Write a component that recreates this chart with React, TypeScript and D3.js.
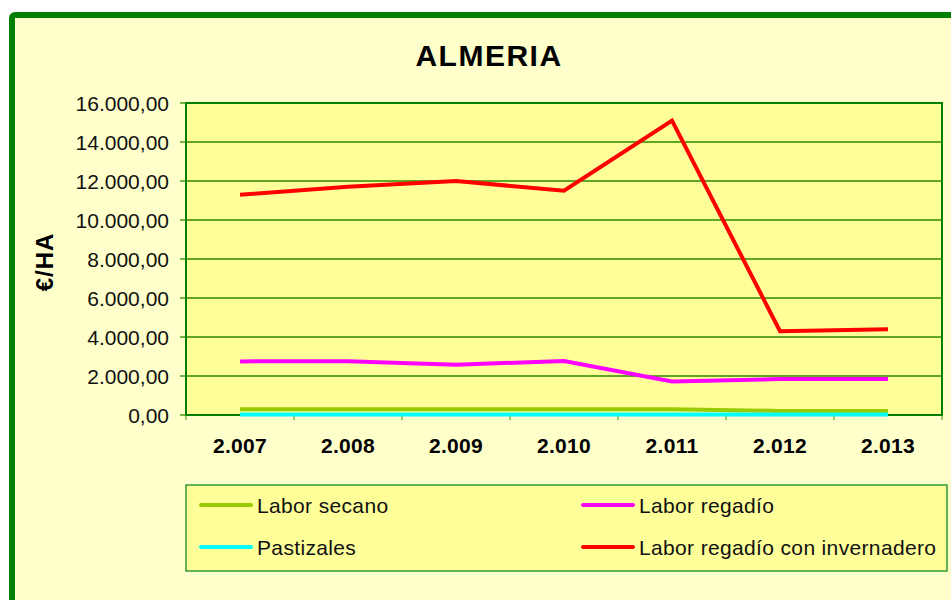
import React from "react";
import * as d3 from "d3";

// años (eje X) y valores €/HA de cada serie
const years = ["2.007", "2.008", "2.009", "2.010", "2.011", "2.012", "2.013"];
const laborSecano = [300, 300, 300, 300, 300, 210, 200];
const pastizales = [20, 20, 20, 20, 20, 20, 20];
const laborRegadio = [2750, 2760, 2580, 2770, 1720, 1840, 1840];
const laborInvernadero = [11300, 11700, 12000, 11500, 15100, 4300, 4400];
const yTicks = [0, 2000, 4000, 6000, 8000, 10000, 12000, 14000, 16000];

const series = [
  { name: "Labor secano", values: laborSecano, color: "#99CC00" },
  { name: "Pastizales", values: pastizales, color: "#00FFFF" },
  { name: "Labor regadío", values: laborRegadio, color: "#FF00FF" },
  { name: "Labor regadío con invernadero", values: laborInvernadero, color: "#FF0000" },
];

const W = 951, H = 600;
const plot = { left: 186, top: 103, right: 942, bottom: 415 };
const font = "'Liberation Sans', Arial, sans-serif";

// 16.000,00 style
const fmt = (v: number) => {
  const s = d3.format(",.2f")(v);
  return s.replace(/,/g, "#").replace(".", ",").replace(/#/g, ".");
};

export default function App() {
  const x = d3.scaleBand().domain(years).range([plot.left, plot.right]);
  const y = d3.scaleLinear().domain([0, 16000]).range([plot.bottom, plot.top]);
  const line = d3.line<number>()
    .x((d, i) => (x(years[i]) as number) + x.bandwidth() / 2)
    .y(d => y(d));

  const legendRows = [
    [series[0], series[2]],
    [series[1], series[3]],
  ];

  return (
    <svg width={W} height={H} style={{ position: "absolute", left: 0, top: 0 }} fontFamily={font}>
      <rect x={0} y={0} width={W} height={H} fill="#fff" />
      <rect x={12} y={15} width={W + 20} height={H + 20} rx={3} fill="#FFFFCC" stroke="#008000" strokeWidth={6} />

      <text x={489} y={66} textAnchor="middle" fontSize={30} fontWeight="bold" letterSpacing={1.5}>ALMERIA</text>

      <rect x={plot.left} y={plot.top} width={plot.right - plot.left} height={plot.bottom - plot.top}
        fill="#FFFF99" stroke="#008000" strokeWidth={2} />

      {yTicks.map(t => (
        <g key={t}>
          {t > 0 && t < 16000 && (
            <line x1={plot.left} x2={plot.right} y1={y(t)} y2={y(t)} stroke="#2D8A00" strokeWidth={1.3} />
          )}
          <line x1={plot.left - 6} x2={plot.left} y1={y(t)} y2={y(t)} stroke="#2D8A00" strokeWidth={1.3} />
          <text x={169} y={y(t)} dy="0.36em" textAnchor="end" fontSize={21} fill="#111">{fmt(t)}</text>
        </g>
      ))}

      {years.map(yr => (
        <g key={yr}>
          <line x1={x(yr) as number} x2={x(yr) as number} y1={plot.bottom} y2={plot.bottom + 5}
            stroke="#339900" strokeWidth={1} />
          <text x={(x(yr) as number) + x.bandwidth() / 2} y={453} textAnchor="middle" fontSize={21} fontWeight="bold" letterSpacing={0.3}>{yr}</text>
        </g>
      ))}
      <line x1={plot.right} x2={plot.right} y1={plot.bottom} y2={plot.bottom + 5} stroke="#339900" strokeWidth={1} />
      <line x1={plot.left} x2={plot.right} y1={plot.bottom} y2={plot.bottom} stroke="#008000" strokeWidth={2} />
      <line x1={plot.left} x2={plot.left} y1={plot.top} y2={plot.bottom} stroke="#008000" strokeWidth={2} />

      <text transform="translate(53,262) rotate(-90)" textAnchor="middle" fontSize={24} fontWeight="bold" letterSpacing={1}>€/HA</text>

      {series.map(s => (
        <path key={s.name} d={line(s.values) as string} fill="none" stroke={s.color} strokeWidth={4} strokeLinejoin="miter" />
      ))}

      <rect x={186} y={485} width={761} height={86} fill="#FFFF99" stroke="#339933" strokeWidth={1.5} />
      {legendRows.map((row, r) =>
        row.map((s, c) => {
          const lx = c === 0 ? 201 : 583;
          const ly = r === 0 ? 505 : 547;
          return (
            <g key={s.name}>
              <line x1={lx} x2={lx + 50} y1={ly} y2={ly} stroke={s.color} strokeWidth={4} strokeLinecap="round" />
              <text x={lx + 56} y={ly} dy="0.36em" fontSize={21} letterSpacing={0.35} fill="#111">{s.name}</text>
            </g>
          );
        })
      )}
    </svg>
  );
}
